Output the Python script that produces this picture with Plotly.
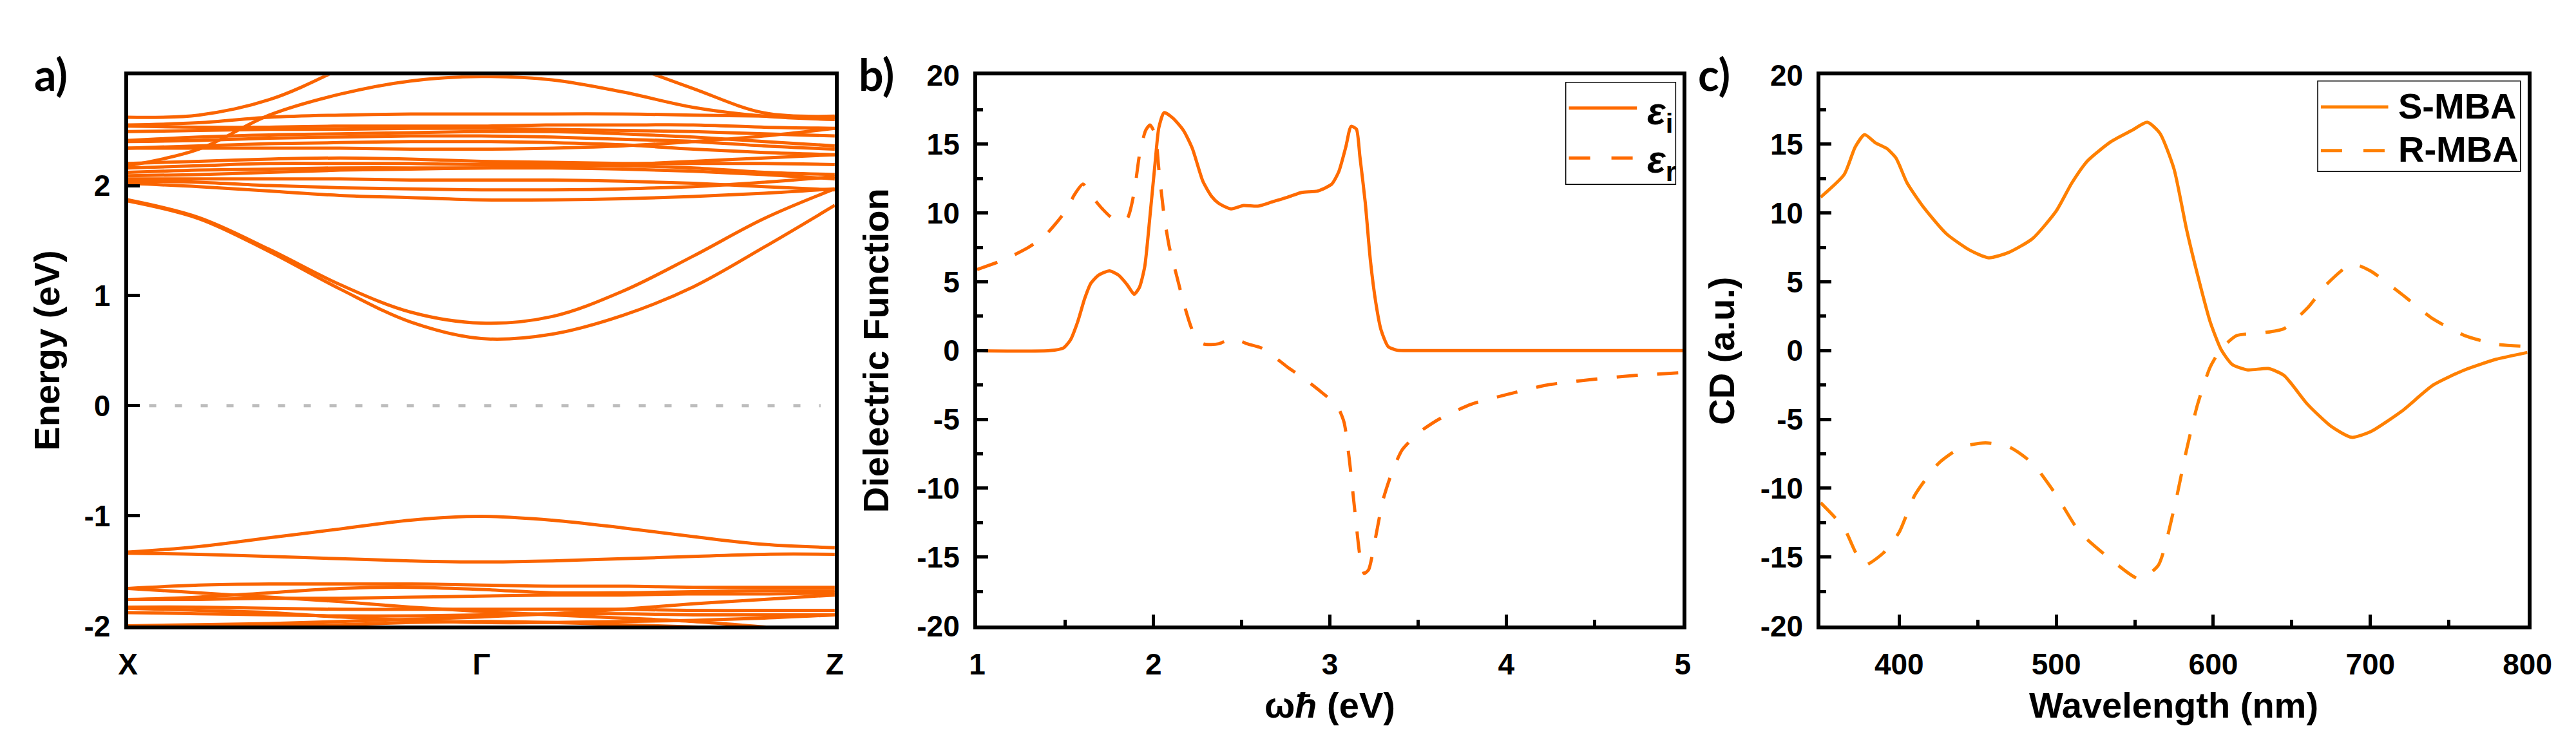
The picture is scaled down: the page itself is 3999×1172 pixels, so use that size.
import plotly.graph_objects as go

W, H = 3999, 1172

# ---------------- Panel a: band structure ----------------
k_path = [0.0, 0.1, 0.2, 0.3, 0.4, 0.5, 0.6, 0.7, 0.8, 0.9, 1.0]
k_tick_vals = [0.0, 0.5, 1.0]
k_tick_text = ["X", "Γ", "Z"]
energy_tick_vals = [-2, -1, 0, 1, 2]
energy_tick_text = ["-2", "-1", "0", "1", "2"]

upper_bands = [
    [2.62, 2.64, 2.78, 3.06, 3.40, 3.50, 3.40, 3.12, 2.88, 2.66, 2.63],
    [2.18, 2.33, 2.64, 2.83, 2.95, 2.99, 2.96, 2.85, 2.71, 2.63, 2.60],
    [2.55, 2.57, 2.62, 2.64, 2.65, 2.65, 2.65, 2.65, 2.64, 2.63, 2.62],
    [2.54, 2.53, 2.53, 2.54, 2.54, 2.54, 2.55, 2.55, 2.55, 2.53, 2.52],
    [2.49, 2.50, 2.51, 2.51, 2.52, 2.52, 2.51, 2.50, 2.49, 2.47, 2.45],
    [2.41, 2.44, 2.46, 2.47, 2.48, 2.49, 2.49, 2.47, 2.44, 2.40, 2.36],
    [2.40, 2.41, 2.43, 2.44, 2.45, 2.45, 2.44, 2.42, 2.40, 2.36, 2.33],
    [2.34, 2.36, 2.38, 2.39, 2.40, 2.40, 2.39, 2.37, 2.33, 2.30, 2.28],
    [2.34, 2.34, 2.34, 2.34, 2.33, 2.33, 2.34, 2.36, 2.40, 2.45, 2.52],
    [2.20, 2.22, 2.24, 2.25, 2.24, 2.22, 2.21, 2.20, 2.20, 2.20, 2.19],
    [2.16, 2.18, 2.20, 2.20, 2.20, 2.19, 2.19, 2.18, 2.16, 2.12, 2.10],
    [2.12, 2.14, 2.15, 2.16, 2.16, 2.16, 2.16, 2.15, 2.13, 2.10, 2.06],
    [2.09, 2.10, 2.12, 2.14, 2.15, 2.16, 2.17, 2.19, 2.22, 2.25, 2.28],
    [2.06, 2.06, 2.06, 2.06, 2.05, 2.05, 2.05, 2.04, 2.02, 1.99, 1.96],
    [2.04, 2.03, 2.00, 1.98, 1.97, 1.96, 1.96, 1.97, 1.99, 2.03, 2.08],
    [2.02, 1.99, 1.95, 1.91, 1.89, 1.87, 1.87, 1.88, 1.90, 1.93, 1.97],
]
conduction_low_bands = [
    [1.87, 1.71, 1.42, 1.10, 0.85, 0.75, 0.81, 1.04, 1.36, 1.70, 1.97],
    [1.86, 1.70, 1.40, 1.06, 0.76, 0.61, 0.65, 0.82, 1.08, 1.44, 1.82],
]
valence_top_bands = [
    [-1.33, -1.28, -1.20, -1.12, -1.04, -1.005, -1.04, -1.11, -1.19, -1.26, -1.29],
    [-1.34, -1.35, -1.37, -1.39, -1.41, -1.42, -1.41, -1.39, -1.37, -1.35, -1.35],
]
valence_deep_bands = [
    [-1.66, -1.63, -1.62, -1.62, -1.62, -1.63, -1.64, -1.64, -1.65, -1.65, -1.65],
    [-1.66, -1.70, -1.74, -1.78, -1.83, -1.87, -1.90, -1.93, -1.96, -2.01, -2.06],
    [-1.76, -1.74, -1.70, -1.66, -1.65, -1.67, -1.70, -1.70, -1.69, -1.68, -1.68],
    [-1.76, -1.76, -1.75, -1.75, -1.74, -1.73, -1.72, -1.72, -1.71, -1.71, -1.70],
    [-1.83, -1.83, -1.84, -1.85, -1.85, -1.85, -1.85, -1.85, -1.86, -1.86, -1.86],
    [-2.00, -1.99, -1.98, -1.96, -1.94, -1.92, -1.89, -1.85, -1.80, -1.76, -1.72],
    [-1.84, -1.86, -1.88, -1.92, -1.95, -1.97, -1.97, -1.96, -1.95, -1.93, -1.90],
    [-2.03, -2.02, -2.00, -1.99, -1.97, -1.96, -1.97, -1.99, -2.01, -2.03, -2.04],
    [-1.88, -1.89, -1.90, -1.91, -1.91, -1.90, -1.89, -1.89, -1.90, -1.90, -1.90],
]

# ---------------- Panel b: dielectric function ----------------
omega_i = [1.0, 1.41, 1.49, 1.53, 1.57, 1.61, 1.645, 1.69, 1.75, 1.80, 1.85, 1.89, 1.92,
           1.95, 1.98, 2.01, 2.03, 2.06, 2.11, 2.17, 2.22, 2.28, 2.33, 2.37, 2.44, 2.51,
           2.59, 2.67, 2.76, 2.84, 2.93, 3.01, 3.05, 3.09, 3.12, 3.15, 3.17, 3.20, 3.23,
           3.26, 3.29, 3.33, 3.38, 3.43, 5.0]
eps_i = [0.0, 0.0, 0.2, 0.8, 2.1, 3.8, 4.9, 5.5, 5.8, 5.5, 4.8, 4.1, 4.6,
         6.1, 9.8, 13.8, 16.2, 17.3, 16.9, 16.0, 14.7, 12.3, 11.2, 10.7, 10.3, 10.55,
         10.5, 10.8, 11.15, 11.5, 11.6, 12.1, 13.0, 14.8, 16.3, 16.1, 14.1, 10.8, 6.5,
         3.5, 1.5, 0.3, 0.03, 0.0, 0.0]
omega_r = [1.0, 1.16, 1.29, 1.38, 1.45, 1.51, 1.55, 1.60, 1.645, 1.71, 1.78, 1.85, 1.89,
           1.92, 1.955, 1.98, 2.01, 2.03, 2.06, 2.09, 2.13, 2.17, 2.22, 2.28, 2.37, 2.45,
           2.53, 2.61, 2.68, 2.76, 2.85, 2.95, 3.04, 3.08, 3.11, 3.14, 3.17, 3.195, 3.22,
           3.26, 3.30, 3.35, 3.41, 3.51, 3.63, 3.80, 4.0, 4.23, 4.48, 4.73, 5.0]
eps_r = [5.9, 6.65, 7.5, 8.3, 9.3, 10.3, 11.3, 12.1, 11.3, 10.3, 9.5, 9.6, 11.5,
         14.2, 16.0, 16.4, 15.7, 13.2, 9.8, 7.5, 5.5, 3.5, 1.5, 0.5, 0.5, 0.9,
         0.5, 0.2, -0.4, -1.2, -2.0, -3.0, -4.0, -5.2, -7.9, -11.5, -14.9, -16.2, -15.9,
         -13.5, -10.9, -8.9, -7.2, -5.9, -4.9, -3.9, -3.2, -2.5, -2.1, -1.8, -1.6]
eps_tick_vals = [-20, -15, -10, -5, 0, 5, 10, 15, 20]
eps_tick_text = ["-20", "-15", "-10", "-5", "0", "5", "10", "15", "20"]
omega_tick_vals = [1, 2, 3, 4, 5]
omega_tick_text = ["1", "2", "3", "4", "5"]

# ---------------- Panel c: CD spectra ----------------
wl_s = [350, 365, 372, 378, 385, 392, 398, 405, 415, 430, 445, 457, 470, 485, 500, 510,
        520, 535, 548, 558, 566, 575, 583, 590, 598, 605, 612, 622, 635, 645, 660, 675,
        688, 700, 720, 740, 760, 780, 800]
cd_s = [11.15, 12.8, 14.8, 15.7, 15.1, 14.7, 14.0, 12.2, 10.5, 8.5, 7.3, 6.75, 7.15, 8.15,
        10.15, 12.2, 13.8, 15.2, 16.0, 16.6, 15.8, 13.2, 8.8, 5.5, 2.1, 0.07, -1.0, -1.4,
        -1.3, -1.8, -3.9, -5.5, -6.3, -5.9, -4.4, -2.5, -1.4, -0.63, -0.13]
wl_r = [350, 365, 372, 378, 390, 400, 410, 425, 440, 455, 470, 485, 500, 515, 535, 553,
        565, 575, 583, 590, 598, 605, 615, 630, 645, 660, 672, 688, 700, 720, 740, 760,
        780, 800]
cd_r = [-11.05, -12.9, -14.6, -15.6, -14.7, -13.2, -10.5, -8.2, -7.0, -6.7, -7.0, -8.2,
        -10.5, -13.2, -15.2, -16.6, -15.6, -11.5, -7.2, -3.9, -1.2, 0.13, 1.1, 1.27, 1.6,
        3.1, 4.8, 6.3, 5.8, 4.1, 2.3, 1.1, 0.47, 0.3]
cd_tick_vals = [-20, -15, -10, -5, 0, 5, 10, 15, 20]
cd_tick_text = ["-20", "-15", "-10", "-5", "0", "5", "10", "15", "20"]
wl_tick_vals = [400, 500, 600, 700, 800]
wl_tick_text = ["400", "500", "600", "700", "800"]

# ---------------- styling ----------------
COL_A = "#FA6400"
COL_B = "#FF6A00"
COL_C = "#FF8000"
LW = 5
DASH = "33px,30px"
TICK_FONT = dict(family="Liberation Sans", size=46, color="black", weight="bold")
TITLE_FONT = dict(family="Liberation Sans", size=56, color="black", weight="bold")
LABEL_FONT = dict(family="Lato", size=68, color="black", weight="bold")


def px(x):
    return x / W


def py(y):
    return 1 - y / H


TOP, BOT = 87, 981
panels = {
    "a": (178, 1290),
    "b": (1514, 2624),
    "c": (2841, 3953),
}

fig = go.Figure()

for band in upper_bands + conduction_low_bands + valence_top_bands + valence_deep_bands:
    fig.add_trace(go.Scatter(x=k_path, y=band, mode="lines", xaxis="x", yaxis="y",
                             line=dict(color=COL_A, width=LW, shape="spline", smoothing=1.0),
                             showlegend=False, hoverinfo="skip"))

fig.add_trace(go.Scatter(x=omega_i, y=eps_i, mode="lines", xaxis="x2", yaxis="y2",
                         line=dict(color=COL_B, width=LW, shape="spline", smoothing=0.6),
                         name="εi", showlegend=False))
fig.add_trace(go.Scatter(x=omega_r, y=eps_r, mode="lines", xaxis="x2", yaxis="y2",
                         line=dict(color=COL_B, width=LW, dash=DASH, shape="spline", smoothing=0.6),
                         name="εr", showlegend=False))

fig.add_trace(go.Scatter(x=wl_s, y=cd_s, mode="lines", xaxis="x3", yaxis="y3",
                         line=dict(color=COL_C, width=LW, shape="spline", smoothing=0.6),
                         name="S-MBA", showlegend=False))
fig.add_trace(go.Scatter(x=wl_r, y=cd_r, mode="lines", xaxis="x3", yaxis="y3",
                         line=dict(color=COL_C, width=LW, dash=DASH, shape="spline", smoothing=0.6),
                         name="R-MBA", showlegend=False))

ydom = [py(BOT), py(TOP)]


def axis_common():
    return dict(showline=True, linecolor="black", linewidth=6, mirror=True,
                showgrid=False, zeroline=False, tickfont=TICK_FONT,
                tickcolor="black")


layout = dict(
    width=W, height=H, paper_bgcolor="white", plot_bgcolor="white",
    margin=dict(l=0, r=0, t=0, b=0), showlegend=False,
)

xa = axis_common()
xa.update(domain=[px(panels["a"][0]), px(panels["a"][1])], anchor="y", range=[0, 1],
          tickmode="array", tickvals=k_tick_vals, ticktext=k_tick_text, ticks="",
          ticklabelstandoff=14)
ya = axis_common()
ya.update(domain=ydom, anchor="x", range=[-2, 3], tickmode="array",
          tickvals=energy_tick_vals, ticktext=energy_tick_text, ticks="inside",
          ticklen=18, tickwidth=5, ticklabelstandoff=12)

xb = axis_common()
xb.update(domain=[px(panels["b"][0]), px(panels["b"][1])], anchor="y2", range=[1, 5],
          tickmode="array", tickvals=omega_tick_vals, ticktext=omega_tick_text,
          ticks="inside", ticklen=17, tickwidth=5, ticklabelstandoff=14,
          minor=dict(ticks="inside", dtick=0.5, tick0=1, ticklen=9, tickwidth=5, tickcolor="black"))
yb = axis_common()
yb.update(domain=ydom, anchor="x2", range=[-20, 20], tickmode="array",
          tickvals=eps_tick_vals, ticktext=eps_tick_text, ticks="inside",
          ticklen=17, tickwidth=5, ticklabelstandoff=12,
          minor=dict(ticks="inside", dtick=2.5, tick0=0, ticklen=9, tickwidth=5, tickcolor="black"))

xc = axis_common()
xc.update(domain=[px(panels["c"][0]), px(panels["c"][1])], anchor="y3", range=[350, 800],
          tickmode="array", tickvals=wl_tick_vals, ticktext=wl_tick_text,
          ticks="inside", ticklen=17, tickwidth=5, ticklabelstandoff=14,
          minor=dict(ticks="inside", dtick=50, tick0=350, ticklen=9, tickwidth=5, tickcolor="black"))
yc = axis_common()
yc.update(domain=ydom, anchor="x3", range=[-20, 20], tickmode="array",
          tickvals=cd_tick_vals, ticktext=cd_tick_text, ticks="inside",
          ticklen=17, tickwidth=5, ticklabelstandoff=12,
          minor=dict(ticks="inside", dtick=2.5, tick0=0, ticklen=9, tickwidth=5, tickcolor="black"))

layout.update(xaxis=xa, yaxis=ya, xaxis2=xb, yaxis2=yb, xaxis3=xc, yaxis3=yc)
fig.update_layout(**layout)

# zero reference line in panel a
fig.add_shape(type="line", xref="x domain", yref="y", x0=0.03, x1=0.98, y0=0, y1=0,
              line=dict(color="#BDBDBD", width=5, dash="11px,29px"), layer="below")

annotations = []
shapes = []

# panel labels
for lab, left in (("a)", 28), ("b)", 1326), ("c)", 2646)):
    annotations.append(dict(text=lab, x=px(left), y=py(40), xref="paper", yref="paper",
                            xanchor="left", yanchor="top", showarrow=False, font=LABEL_FONT))

# axis titles
cy = (TOP + BOT) / 2
annotations += [
    dict(text="Energy (eV)", x=px(50), y=py(cy), textangle=-90),
    dict(text="Dielectric Function", x=px(1354), y=py(cy), textangle=-90),
    dict(text="CD (a.u.)", x=px(2685), y=py(cy), textangle=-90),
    dict(text="ω<i>ħ</i> (eV)", x=px(2069), y=py(1110), textangle=0),
    dict(text="Wavelength (nm)", x=px(3397), y=py(1110), textangle=0),
]
for a in annotations[-5:]:
    a.update(xref="paper", yref="paper", xanchor="center", yanchor="middle",
             showarrow=False, font=TITLE_FONT)

# legend panel b (drawn)
shapes.append(dict(type="rect", xref="paper", yref="paper", x0=px(2440), x1=px(2613),
                   y0=py(264), y1=py(98), line=dict(color="black", width=1.5),
                   fillcolor="white"))
shapes.append(dict(type="line", xref="paper", yref="paper", x0=px(2445), x1=px(2552),
                   y0=py(140), y1=py(140), line=dict(color=COL_B, width=LW)))
shapes.append(dict(type="line", xref="paper", yref="paper", x0=px(2445), x1=px(2552),
                   y0=py(221), y1=py(221), line=dict(color=COL_B, width=LW, dash="33px,33px")))
annotations.append(dict(text="<i>ε</i><sub>i</sub>", x=px(2566), y=py(150), xref="paper",
                        yref="paper", xanchor="left", yanchor="middle", showarrow=False,
                        font=dict(family="Liberation Sans", size=60, color="black", weight="bold")))
annotations.append(dict(text="<i>ε</i><sub>r</sub>", x=px(2566), y=py(228), xref="paper",
                        yref="paper", xanchor="left", yanchor="middle", showarrow=False,
                        font=dict(family="Liberation Sans", size=60, color="black", weight="bold")))

# legend panel c (drawn)
shapes.append(dict(type="rect", xref="paper", yref="paper", x0=px(3623), x1=px(3942),
                   y0=py(243), y1=py(96), line=dict(color="black", width=1.5),
                   fillcolor="white"))
shapes.append(dict(type="line", xref="paper", yref="paper", x0=px(3628), x1=px(3734),
                   y0=py(138), y1=py(138), line=dict(color=COL_C, width=LW)))
shapes.append(dict(type="line", xref="paper", yref="paper", x0=px(3628), x1=px(3734),
                   y0=py(209), y1=py(209), line=dict(color=COL_C, width=LW, dash="33px,33px")))
annotations.append(dict(text="S-MBA", x=px(3748), y=py(137), xref="paper", yref="paper",
                        xanchor="left", yanchor="middle", showarrow=False,
                        font=dict(family="Liberation Sans", size=56, color="black", weight="bold")))
annotations.append(dict(text="R-MBA", x=px(3748), y=py(207), xref="paper", yref="paper",
                        xanchor="left", yanchor="middle", showarrow=False,
                        font=dict(family="Liberation Sans", size=56, color="black", weight="bold")))

for s in shapes:
    fig.add_shape(**s)
fig.update_layout(annotations=annotations)

fig.write_html("out.html")
